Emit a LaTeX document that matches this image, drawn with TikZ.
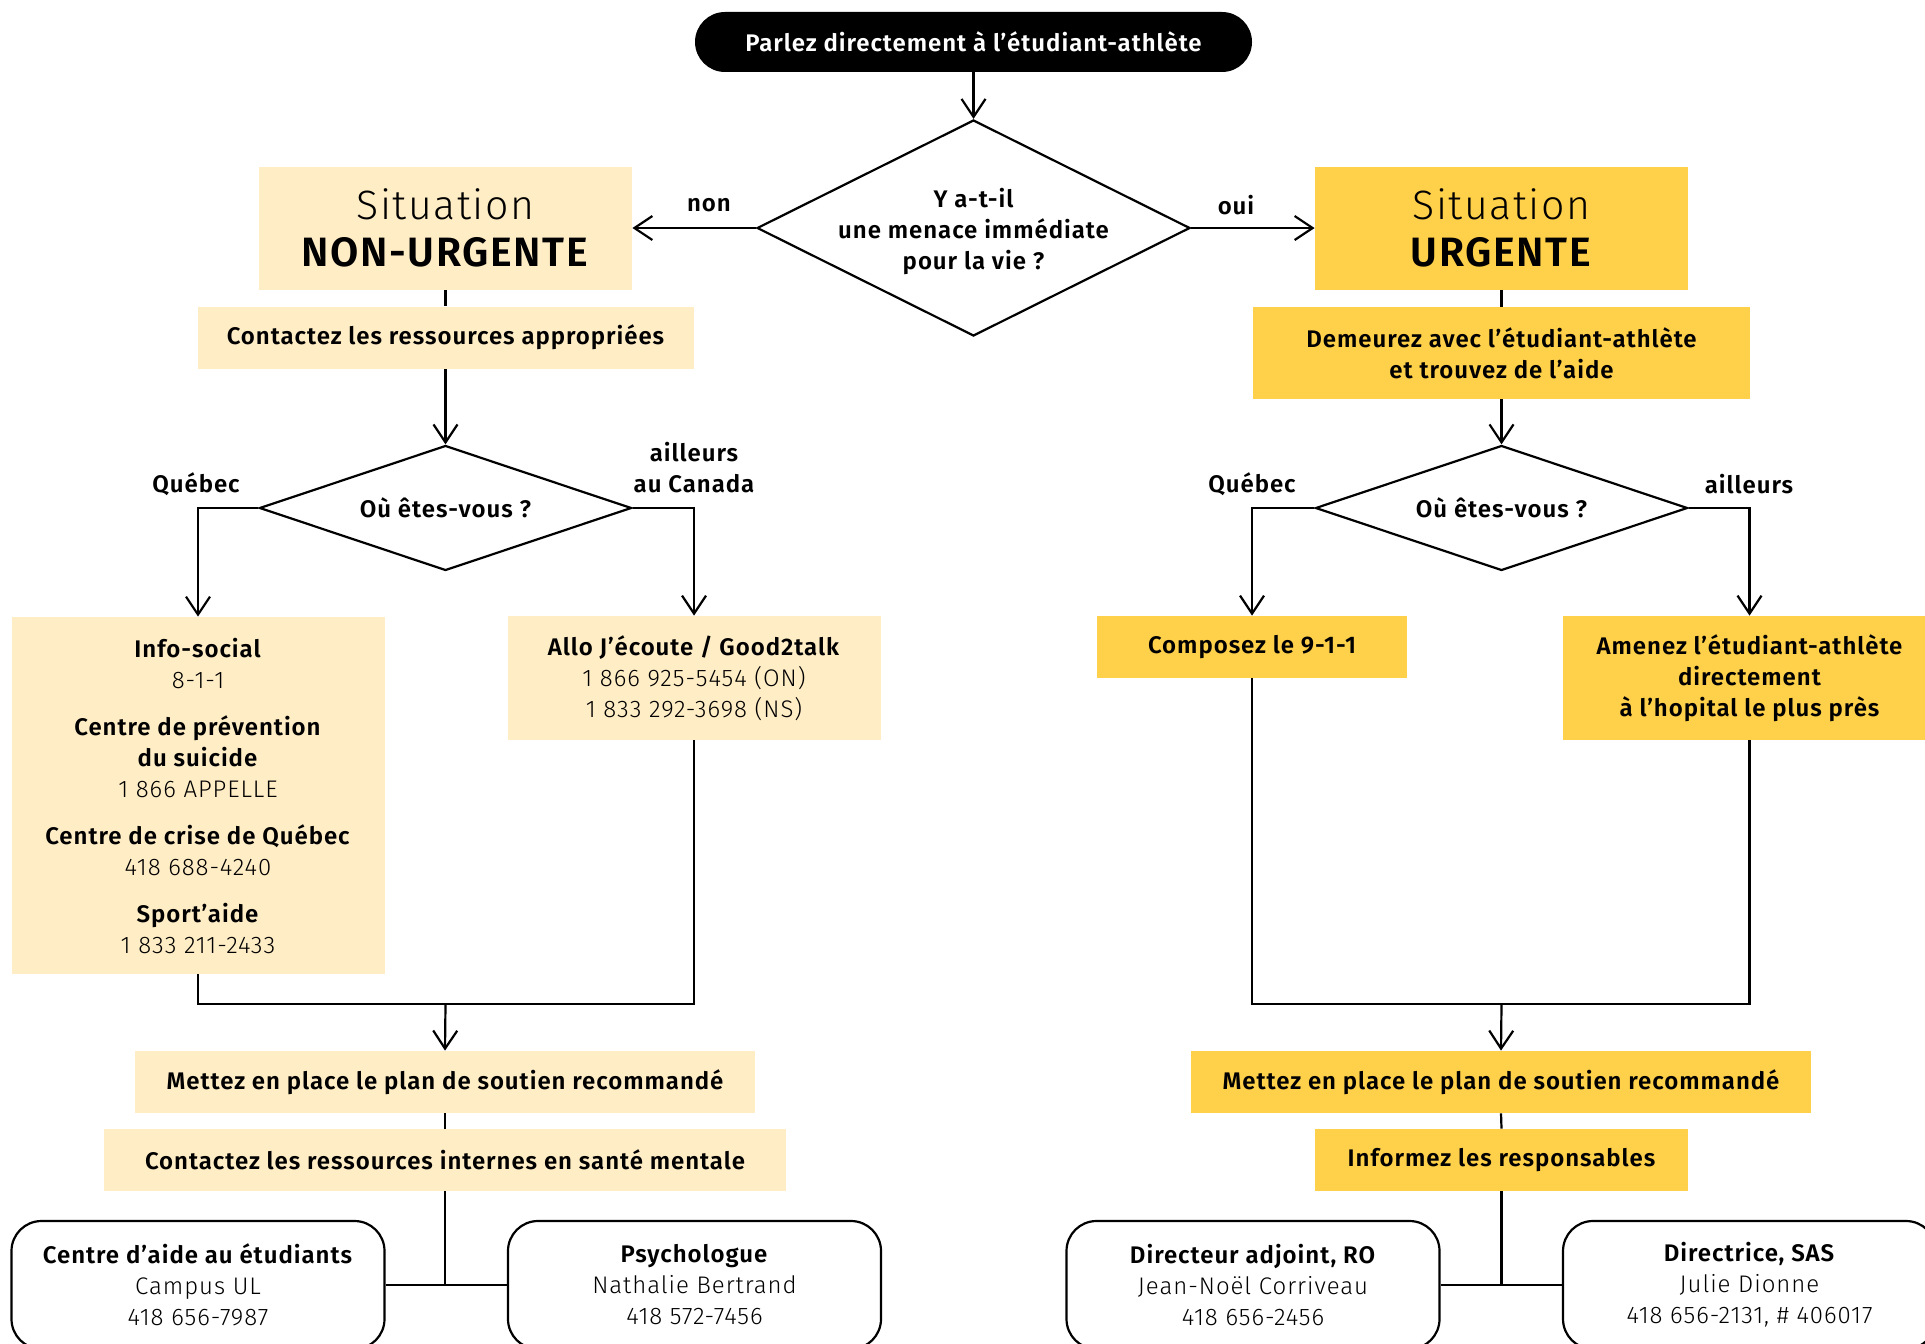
\documentclass[tikz,border=0pt]{standalone}
\usepackage{fontspec}
\IfFontExistsTF{Fira Sans SemiBold}{\setmainfont{Fira Sans}[BoldFont={Fira Sans SemiBold},LetterSpace=4]}{\setmainfont{Fira Sans}[LetterSpace=4]}
\IfFontExistsTF{Fira Sans Light}{\newfontfamily\lightfont{Fira Sans Light}[LetterSpace=4]}{\newfontfamily\lightfont{Fira Sans}[LetterSpace=4]}
\usepackage{xcolor}
\usepackage{tikz}
\usetikzlibrary{shapes.geometric,arrows.meta}

\definecolor{pale}{HTML}{FFEDC6}
\definecolor{vif}{HTML}{FFD04A}
\newcommand\bodysize{\fontsize{12}{15.5}\selectfont}
\newcommand\tel[1]{{\lightfont #1}}

\begin{document}
\begin{tikzpicture}[x=0.5pt,y=-0.5pt,
    every node/.style={align=center,inner sep=0pt,font=\bodysize},
    link/.style={line width=1.1pt},
    arr/.style={link,-{Straight Barb[length=9pt,width=12pt]}},
    softbox/.style={fill=pale,minimum width=186.5pt,minimum height=31pt},
    hotbox/.style={fill=vif,minimum width=186.5pt,minimum height=31pt},
    heavy/.style={font=\bodysize\bfseries},
    choice/.style={diamond,draw,link,heavy},
    contact/.style={draw,link,rounded corners=15pt,fill=white,minimum width=186.5pt,minimum height=64pt},
    title/.style={font=\fontsize{20.5}{23.5}\selectfont}]
    \path[use as bounding box,fill=white] (0,0) rectangle (1925,1343);

    % --- start and first question
    \node[fill=black,text=white,heavy,rounded corners=15pt,minimum width=278.5pt,minimum height=30pt] (parlez) at (973.5,42) {Parlez directement à l’étudiant-athlète};
    \node[choice,aspect=2,minimum width=216.5pt,minimum height=108pt,
      label={[heavy,yshift=-2pt]center:{Y a-t-il\\une menace immédiate\\pour la vie~?}}] (menace) at (973.5,228) {};

    % --- situation
    \node[softbox,title,minimum height=61.5pt] (nonurg) at (445.5,228) {{\lightfont Situation}\\\textbf{NON-URGENTE}};
    \node[hotbox,title,minimum height=61.5pt] (urg) at (1501.5,228) {{\lightfont Situation}\\\textbf{URGENTE}};
    \node[softbox,heavy,minimum width=248pt] (ressources) at (445.5,337.5) {Contactez les ressources appropriées};
    \node[hotbox,heavy,minimum width=248.5pt,minimum height=46pt] (demeurez) at (1501.5,353) {Demeurez avec l’étudiant-athlète\\et trouvez de l’aide};

    % --- where
    \node[choice,aspect=3,minimum width=186pt,minimum height=62.5pt] (ouL) at (445.5,508) {Où êtes-vous~?};
    \node[choice,aspect=3,minimum width=186pt,minimum height=62.5pt] (ouR) at (1501.5,508) {Où êtes-vous~?};

    % --- resources
    \node[softbox,minimum height=178.5pt] (info) at (198,795.5) {\textbf{Info-social}\\\tel{8-1-1}\\[8pt]\textbf{Centre de prévention}\\\textbf{du suicide}\\\tel{1 866 APPELLE}\\[8pt]\textbf{Centre de crise de Québec}\\\tel{418 688-4240}\\[8pt]\textbf{Sport’aide}\\\tel{1 833 211-2433}};
    \node[softbox,minimum height=62pt] (allo) at (694,678) {\textbf{Allo J’écoute / Good2talk}\\\tel{1 866 925-5454 (ON)}\\\tel{1 833 292-3698 (NS)}};
    \node[hotbox,heavy,minimum width=155pt] (composez) at (1252,647) {Composez le 9-1-1};
    \node[hotbox,heavy,minimum height=62pt] (amenez) at (1749.5,678) {Amenez l’étudiant-athlète\\directement\\à l’hopital le plus près};

    % --- follow-up
    \node[softbox,heavy,minimum width=310pt] (planL) at (445,1082) {Mettez en place le plan de soutien recommandé};
    \node[hotbox,heavy,minimum width=310pt] (planR) at (1501,1082) {Mettez en place le plan de soutien recommandé};
    \node[softbox,heavy,minimum width=341pt] (interne) at (445,1160) {Contactez les ressources internes en santé mentale};
    \node[hotbox,heavy] (informez) at (1501.5,1160) {Informez les responsables};

    % --- contacts
    \node[contact] (cae) at (198,1285) {\textbf{Centre d’aide au étudiants}\\\tel{Campus UL}\\\tel{418 656-7987}};
    \node[contact] (psy) at (694.5,1285) {\textbf{Psychologue}\\\tel{Nathalie Bertrand}\\\tel{418 572-7456}};
    \node[contact] (adjoint) at (1253,1285) {\textbf{Directeur adjoint, RO}\\\tel{Jean-Noël Corriveau}\\\tel{418 656-2456}};
    \node[contact] (sas) at (1749.5,1285) {\textbf{Directrice, SAS}\\\tel{Julie Dionne}\\\tel{418 656-2131, \# 406017}};

    % --- branch labels
    \node[heavy] (nonlab) at (709,205) {non};
    \node[heavy] (ouilab) at (1236,205) {oui};
    \node[heavy] (qcL) at (196,484) {Québec};
    \node[heavy] (ailL) at (694,468) {ailleurs\\au Canada};
    \node[heavy] (qcR) at (1252,484) {Québec};
    \node[heavy] (ailR) at (1749,484) {ailleurs};

    % --- connectors
    \coordinate (joinL) at (445.5,1004);
    \coordinate (joinR) at (1501.5,1004);
    \foreach \a/\b in {parlez/menace,ressources/ouL,demeurez/ouR}{\draw[arr] (\a.south) -- (\b.north);}
    \draw[arr] (menace.west) -- (nonurg.east);
    \draw[arr] (menace.east) -- (urg.west);
    \foreach \a/\b in {nonurg/ressources,urg/demeurez,planL/interne,planR/informez}{\draw[link] (\a.south) -- (\b.north);}
    \draw[arr] (ouL.west) -| (info.north);
    \draw[arr] (ouL.east) -| (allo.north);
    \draw[arr] (ouR.west) -| (composez.north);
    \draw[arr] (ouR.east) -| (amenez.north);
    \draw[link] (info.south) |- (joinL) -| (allo.south);
    \draw[link] (composez.south) |- (joinR) -| (amenez.south);
    \draw[arr] (joinL) -- (planL.north);
    \draw[arr] (joinR) -- (planR.north);
    % contacts hang off the last boxes
    \draw[link] (cae.east) -- (psy.west);
    \draw[link] (adjoint.east) -- (sas.west);
    \draw[link] (interne.south) -- (interne.south |- cae.east);
    \draw[link] (informez.south) -- (informez.south |- adjoint.east);
\end{tikzpicture}
\end{document}
